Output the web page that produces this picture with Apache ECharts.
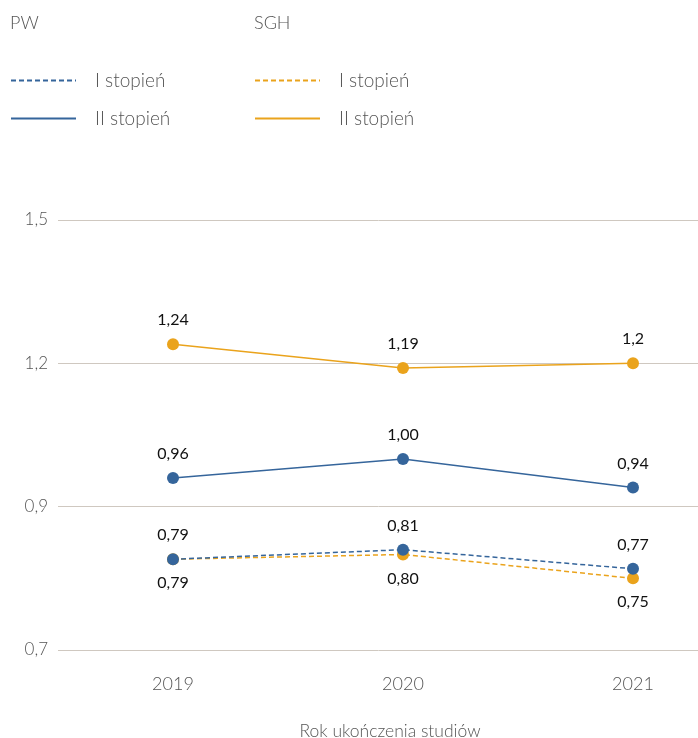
<!DOCTYPE html>
<html>
<head>
<meta charset="utf-8">
<script src="https://cdn.jsdelivr.net/npm/echarts@6/dist/echarts.min.js"></script>
<style>html,body{margin:0;padding:0;background:#fff}#c{width:698px;height:738px}</style>
</head>
<body>
<div id="c"></div>
<script>
const categories = ['2019', '2020', '2021'];
const pwI = [0.79, 0.81, 0.77];
const pwII = [0.96, 1.00, 0.94];
const sghI = [0.79, 0.80, 0.75];
const sghII = [1.24, 1.19, 1.2];
const yTickLabels = ['0,7', '0,9', '1,2', '1,5'];
const xAxisName = 'Rok ukończenia studiów';

const BLUE = '#35659b';
const ORANGE = '#eaa31c';
const FONT = 'Lato';

const fixed2 = p => p.value.toFixed(2).replace('.', ',');
const raw = p => String(p.value).replace('.', ',');

function mk(name, data, color, dashed, pos, fmt, z) {
  return {
    name: name,
    type: 'line',
    data: data,
    symbol: 'circle',
    symbolSize: 12,
    lineStyle: { color: color, width: 1.5, type: dashed ? [5, 3] : 'solid' },
    itemStyle: { color: color },
    label: {
      show: true, position: pos, distance: 10,
      formatter: fmt,
      fontFamily: FONT, fontSize: 16, color: '#111'
    },
    emphasis: { disabled: true },
    z: z
  };
}

const series = [
  mk('PW I stopień', pwI, BLUE, true, 'top', fixed2, 4),
  mk('PW II stopień', pwII, BLUE, false, 'top', fixed2, 3),
  mk('SGH I stopień', sghI, ORANGE, true, 'bottom', fixed2, 2),
  mk('SGH II stopień', sghII, ORANGE, false, 'top', raw, 2)
];

const legendCommon = {
  orient: 'vertical',
  top: 71,
  padding: 0,
  itemWidth: 65,
  itemHeight: 14,
  itemGap: 19,
  selectedMode: false,
  itemStyle: { opacity: 0 },
  textStyle: { fontFamily: FONT, fontWeight: 300, fontSize: 19, color: '#555', padding: [0, 0, 0, 14] },
  formatter: n => n.replace(/^(PW|SGH) /, '')
};

const chart = echarts.init(document.getElementById('c'), null, { renderer: 'canvas' });
chart.setOption({
  animation: false,
  title: [
    { text: 'PW', left: 5, top: 9, textStyle: { fontFamily: FONT, fontWeight: 300, fontSize: 18, color: '#555' } },
    { text: 'SGH', left: 249, top: 9, textStyle: { fontFamily: FONT, fontWeight: 300, fontSize: 18, color: '#555' } }
  ],
  legend: [
    Object.assign({}, legendCommon, { left: 10, data: ['PW I stopień', 'PW II stopień'] }),
    Object.assign({}, legendCommon, { left: 254, data: ['SGH I stopień', 'SGH II stopień'] })
  ],
  grid: { left: 58, top: 220, width: 690, height: 430, containLabel: false, outerBoundsMode: 'none' },
  xAxis: {
    type: 'category',
    data: categories,
    boundaryGap: true,
    axisLine: { show: false },
    axisTick: { show: false },
    axisLabel: { margin: 25, fontFamily: FONT, fontWeight: 300, fontSize: 18, color: '#555' },
    name: xAxisName,
    nameLocation: 'middle',
    nameGap: 72,
    nameTextStyle: { fontFamily: FONT, fontWeight: 300, fontSize: 17.5, color: '#555', padding: [0, 26, 0, 0] }
  },
  yAxis: {
    type: 'value',
    min: 0.6,
    max: 1.5,
    interval: 0.3,
    axisLine: { show: false },
    axisTick: { show: false },
    splitLine: { lineStyle: { color: '#cfc8c0', width: 1 } },
    axisLabel: {
      margin: 10, fontFamily: FONT, fontWeight: 300, fontSize: 17, color: '#555',
      formatter: v => yTickLabels[Math.round((v - 0.6) / 0.3)]
    }
  },
  series: series
});
</script>
</body>
</html>
